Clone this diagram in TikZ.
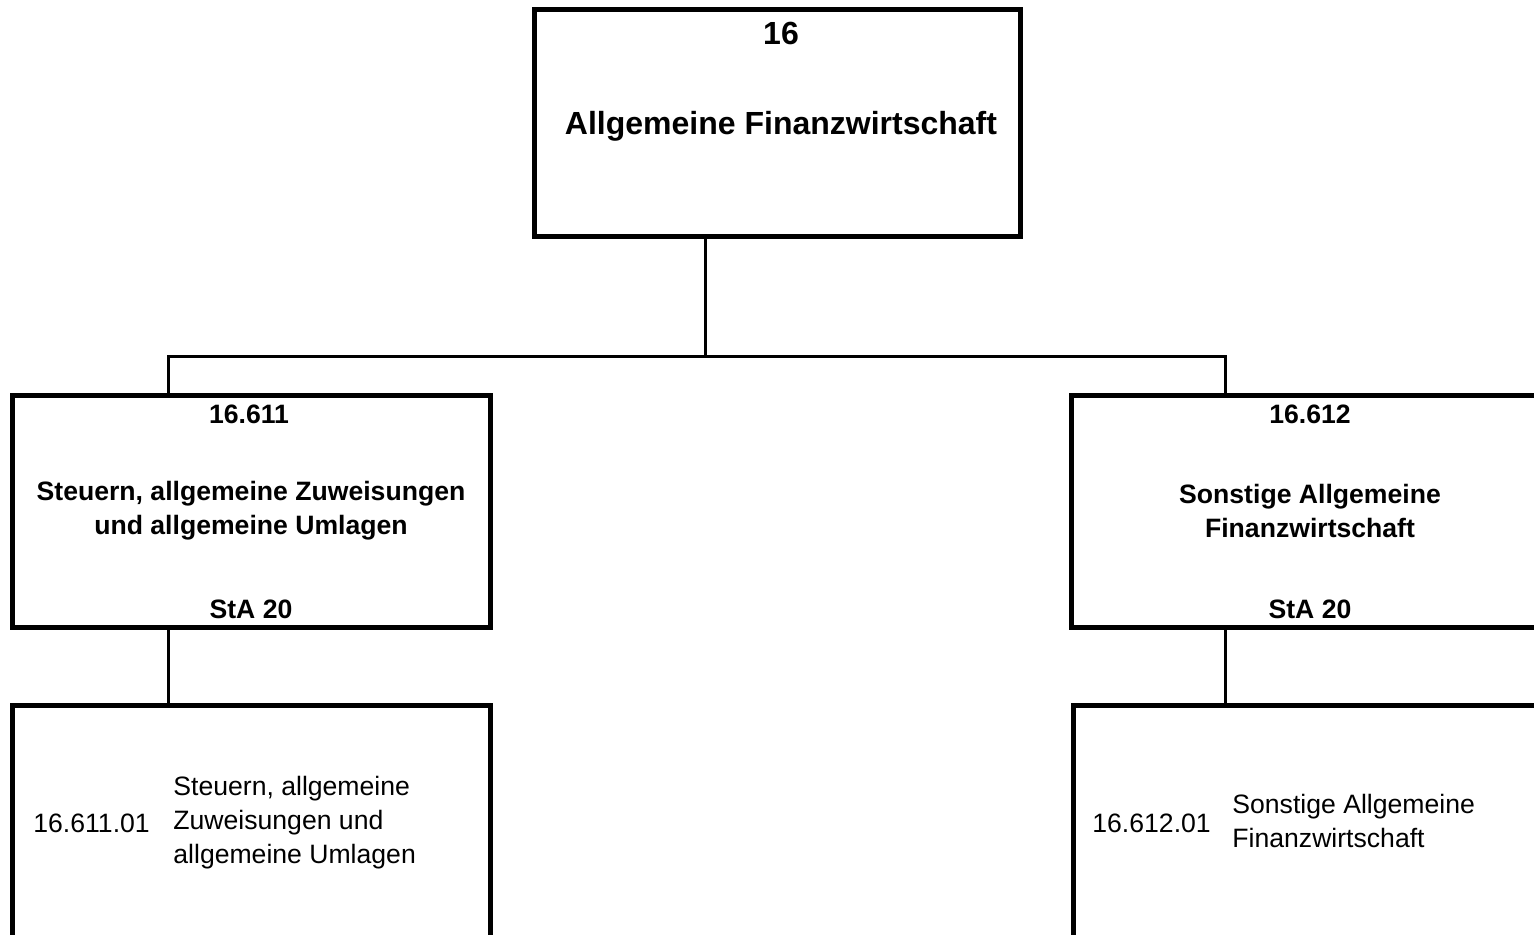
\documentclass[tikz,border=0pt]{standalone}
\usepackage{fontspec}
\setmainfont{Liberation Sans}
\begin{document}
\begin{tikzpicture}[x=0.5pt,y=-0.5pt,
  box/.style={draw=black,line width=2.5pt,rectangle,inner sep=0pt,fill=white},
  conn/.style={draw=black,line width=1.5pt},
  bigtxt/.style={inner sep=0pt,font=\bfseries\fontsize{16}{20}\selectfont},
  midtxt/.style={inner sep=0pt,align=center,font=\bfseries\fontsize{13.3}{17}\selectfont},
  lowtxt/.style={inner sep=0pt,align=left,anchor=west,font=\fontsize{13.3}{17}\selectfont}]
\useasboundingbox (0,0) rectangle (1534,934);
\clip (0,0) rectangle (1534,934);
\fill[white] (0,0) rectangle (1534,934);
% junctions
\coordinate (jT) at (705.5,356);
\coordinate (jL) at (168.5,356);
\coordinate (jR) at (1225,356);
% boxes
\node[box,minimum width=243pt,minimum height=113.5pt] (top) at (777,122.5) {};
\node[box,minimum width=239pt,minimum height=116pt] (m1) at (251,511) {};
\node[box,minimum width=239pt,minimum height=116pt] (m2) at (1310,511) {};
\node[box,minimum width=239pt,minimum height=130pt] (b1) at (251,835) {};
\node[box,minimum width=239pt,minimum height=130pt] (b2) at (1312,835) {};
% connectors
\draw[conn] (top.south -| jT) -- (jT);
\draw[conn] (m1.north -| jL) -- (jL) -- (jR) -- (m2.north -| jR);
\draw[conn] (m1.south -| jL) -- (b1.north -| jL);
\draw[conn] (m2.south -| jR) -- (b2.north -| jR);
% texts top
\node[bigtxt] (t1) at (781,33) {16};
\node[bigtxt] (t2) at (781,126) {Allgemeine Finanzwirtschaft};
% mid left
\node[midtxt] (l1) at (249,414) {16.611};
\node[midtxt] (l2) at (251,511) {Steuern, allgemeine Zuweisungen\\und allgemeine Umlagen};
\node[midtxt] (l3) at (251,609) {StA 20};
% mid right
\node[midtxt] (r1) at (1310,414) {16.612};
\node[midtxt] (r2) at (1310,511) {Sonstige Allgemeine\\Finanzwirtschaft};
\node[midtxt] (r3) at (1310,609) {StA 20};
% bottom left
\node[lowtxt] (bl1) at (33,823) {16.611.01};
\node[lowtxt] (bl2) at (173,823) {Steuern, allgemeine\\Zuweisungen und\\allgemeine Umlagen};
% bottom right
\node[lowtxt] (br1) at (1092,823) {16.612.01};
\node[lowtxt] (br2) at (1232,821) {Sonstige Allgemeine\\Finanzwirtschaft};
\end{tikzpicture}
\end{document}
